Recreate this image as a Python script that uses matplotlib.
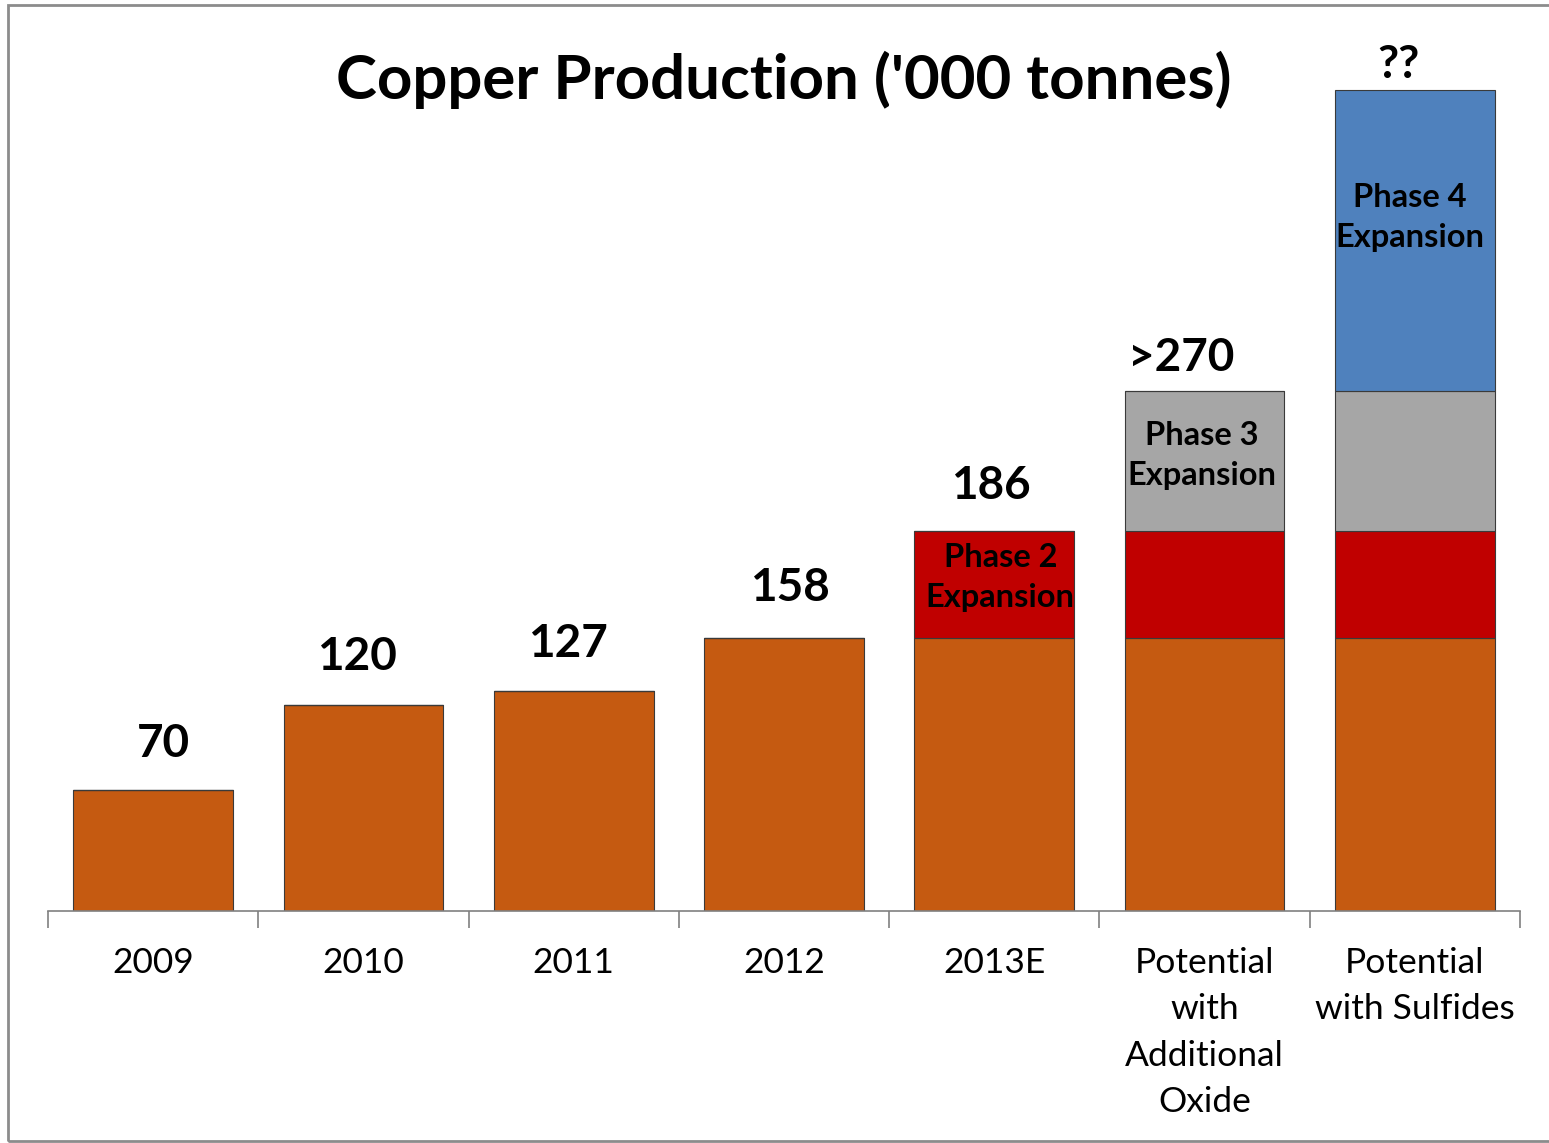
import matplotlib
matplotlib.use("Agg")
import matplotlib.pyplot as plt
from matplotlib.patches import Rectangle

# Data (bar heights, labels as printed)
categories = ["2009", "2010", "2011", "2012", "2013E",
              "Potential\nwith\nAdditional\nOxide", "Potential\nwith Sulfides"]
base = [70, 119, 127, 158, 158, 158, 158]
phase2 = [0, 0, 0, 0, 62, 62, 62]
phase3 = [0, 0, 0, 0, 0, 81, 81]
phase4 = [0, 0, 0, 0, 0, 0, 174]
value_labels = ["70", "120", "127", "158", "186", ">270", "??"]
phase_names = ["Phase 2\nExpansion", "Phase 3\nExpansion", "Phase 4\nExpansion"]

# label offsets in pixels (dx, dy) from the bar top
label_offsets = [(10, 46), (-6, 48), (-6, 47), (6, 50), (-3, 45), (-23, 33), (-16, 25)]

orange = "#C55A11"
red = "#C00000"
grey = "#A6A6A6"
blue = "#4F81BD"

plt.rcParams['font.family'] = ['Lato', 'DejaVu Sans']

fig = plt.figure(figsize=(15.49, 11.43), dpi=100)
W, H = 1549, 1143
ax = fig.add_axes([48 / W, (H - 911) / H, 1472 / W, 906 / H])

x = list(range(len(categories)))
bw = 0.76
bottom = [0] * len(x)
for vals, col in [(base, orange), (phase2, red), (phase3, grey), (phase4, blue)]:
    ax.bar(x, vals, bw, bottom=bottom, color=col, edgecolor="#3a3a3a", linewidth=0.8)
    bottom = [b + v for b, v in zip(bottom, vals)]

# value labels above bars
for i, lab in enumerate(value_labels):
    dx, dy = label_offsets[i]
    ax.annotate(lab, (x[i], bottom[i]), xytext=(dx, dy), textcoords="offset pixels",
                ha="center", va="center", fontsize=33, fontweight="bold")

# phase names inside the stacked segments
seg_mid2 = base[4] + phase2[4] / 2
seg_mid3 = base[5] + phase2[5] + phase3[5] / 2
seg_mid4 = base[6] + phase2[6] + phase3[6] + phase4[6] / 2
ph_style = dict(textcoords="offset pixels", ha="center", va="center",
                fontsize=23.5, fontweight="bold", linespacing=1.45)
ax.annotate(phase_names[0], (x[4], seg_mid2), xytext=(6, 7), **ph_style)
ax.annotate(phase_names[1], (x[5], seg_mid3), xytext=(-3, 5), **ph_style)
ax.annotate(phase_names[2], (x[6], seg_mid4), xytext=(-5, 23), **ph_style)

ax.set_xlim(-0.5, len(x) - 0.5)
ax.set_ylim(0, 524)
for s in ["top", "right", "left"]:
    ax.spines[s].set_visible(False)
ax.spines["bottom"].set_color("#808080")
ax.spines["bottom"].set_linewidth(1.2)
ax.set_yticks([])
ax.set_xticks([i - 0.5 for i in range(len(x) + 1)], minor=False)
ax.set_xticklabels([])
ax.tick_params(axis="x", which="major", length=12, width=1.2, color="#808080", direction="out")
ax.set_xticks(x, minor=True)
ax.set_xticklabels(categories, minor=True, fontsize=25.5, linespacing=1.55, va="top")
ax.tick_params(axis="x", which="minor", length=0, pad=26)

fig.text(784 / W, 1 - 80 / H, "Copper Production ('000 tonnes)", ha="center", va="center",
         fontsize=44.5, fontweight="bold")

# outer frame of the picture
fig.add_artist(Rectangle((8 / W, 2 / H), 1.2, 1 - 7 / H, transform=fig.transFigure,
                         fill=False, edgecolor="#8c8c8c", linewidth=2))

fig.savefig("out.png", dpi=100)
plt.close(fig)
